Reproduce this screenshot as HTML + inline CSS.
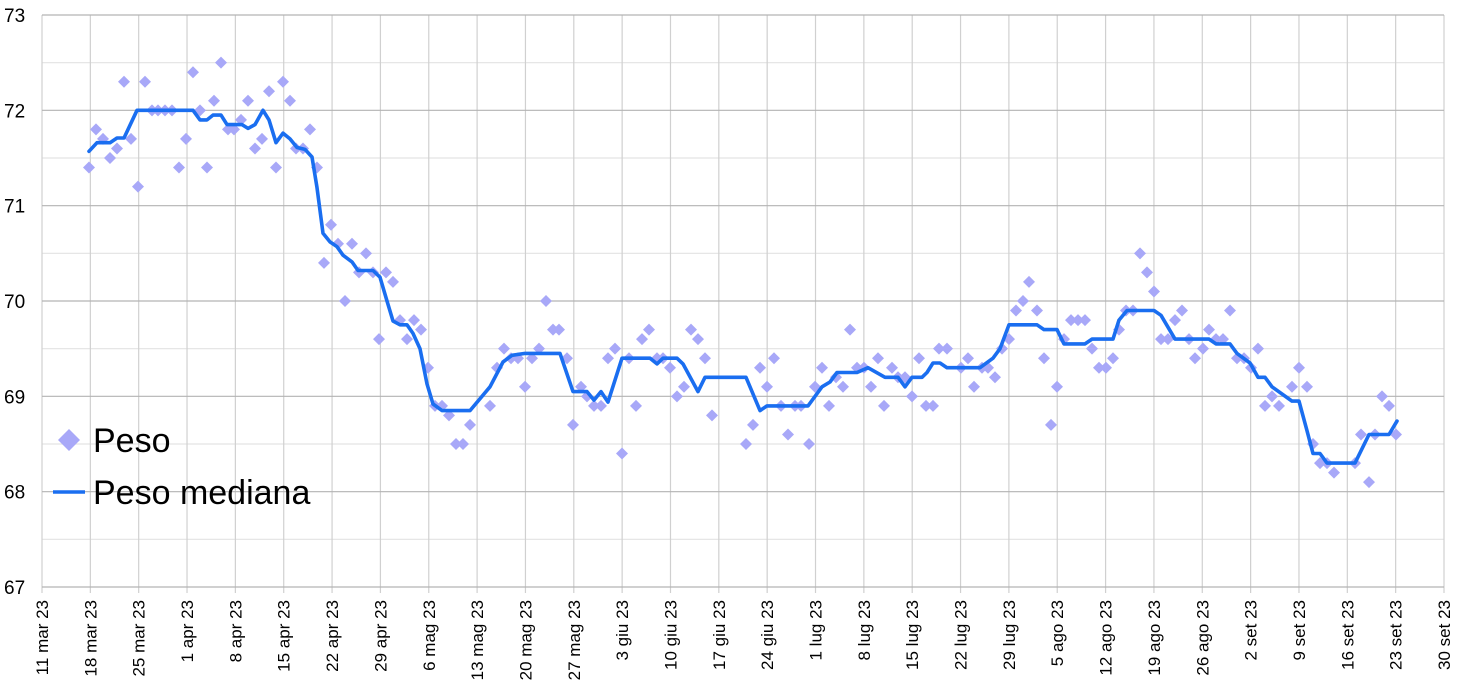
<!DOCTYPE html>
<html><head><meta charset="utf-8"><style>
html,body{margin:0;padding:0;background:#fff;}
svg{display:block;font-family:"Liberation Sans",Arial,sans-serif;}
</style></head><body>
<svg id="s" width="1457" height="685" viewBox="0 0 1457 685" xmlns="http://www.w3.org/2000/svg"></svg>
<script>
const S=document.getElementById('s');
const L=42,R=1444,T=15,B=587;
const Y=v=>T+(73-v)*(B-T)/6;
let h='';
for(let v=67.5;v<73;v+=1) h+=`<line x1="${L}" x2="${R}" y1="${Y(v)}" y2="${Y(v)}" stroke="#e3e3e3" stroke-width="1.2"/>`;
const labels=["11 mar 23","18 mar 23","25 mar 23","1 apr 23","8 apr 23","15 apr 23","22 apr 23","29 apr 23","6 mag 23","13 mag 23","20 mag 23","27 mag 23","3 giu 23","10 giu 23","17 giu 23","24 giu 23","1 lug 23","8 lug 23","15 lug 23","22 lug 23","29 lug 23","5 ago 23","12 ago 23","19 ago 23","26 ago 23","2 set 23","9 set 23","16 set 23","23 set 23","30 set 23"];
const step=(R-L)/29;
labels.forEach((t,i)=>{const x=L+i*step;
h+=`<line x1="${x}" x2="${x}" y1="${T}" y2="${B+6}" stroke="#d0d0d0" stroke-width="1.2"/>`;
h+=`<text transform="translate(${x+6},${B+13}) rotate(-90)" text-anchor="end" font-size="17" fill="#000">${t}</text>`;});
for(let v=67;v<=73;v++){h+=`<line x1="${L}" x2="${R}" y1="${Y(v)}" y2="${Y(v)}" stroke="#b3b3b3" stroke-width="1.2"/>`;
h+=`<text x="4" y="${Y(v)+7}" font-size="19" fill="#000">${v}</text>`;}
const P=[[89,71.4],[96,71.8],[103,71.7],[110,71.5],[117,71.6],[124,72.3],[131,71.7],[138,71.2],[145,72.3],[152,72.0],[158,72.0],[165,72.0],[172,72.0],[179,71.4],[186,71.7],[193,72.4],[200,72.0],[207,71.4],[214,72.1],[221,72.5],[228,71.8],[234,71.8],[241,71.9],[248,72.1],[255,71.6],[262,71.7],[269,72.2],[276,71.4],[283,72.3],[290,72.1],[296,71.6],[303,71.6],[310,71.8],[317,71.4],[324,70.4],[331,70.8],[338,70.6],[345,70.0],[352,70.6],[359,70.3],[366,70.5],[373,70.3],[379,69.6],[386,70.3],[393,70.2],[400,69.8],[407,69.6],[414,69.8],[421,69.7],[428,69.3],[435,68.9],[442,68.9],[449,68.8],[456,68.5],[463,68.5],[470,68.7],[490,68.9],[497,69.3],[504,69.5],[511,69.4],[518,69.4],[525,69.1],[532,69.4],[539,69.5],[546,70.0],[553,69.7],[559,69.7],[567,69.4],[573,68.7],[581,69.1],[587,69.0],[594,68.9],[601,68.9],[608,69.4],[615,69.5],[622,68.4],[629,69.4],[636,68.9],[642,69.6],[649,69.7],[657,69.4],[663,69.4],[670,69.3],[677,69.0],[684,69.1],[691,69.7],[698,69.6],[705,69.4],[712,68.8],[746,68.5],[753,68.7],[760,69.3],[767,69.1],[774,69.4],[781,68.9],[788,68.6],[795,68.9],[801,68.9],[809,68.5],[815,69.1],[822,69.3],[829,68.9],[836,69.2],[843,69.1],[850,69.7],[857,69.3],[864,69.3],[871,69.1],[878,69.4],[884,68.9],[892,69.3],[898,69.2],[905,69.2],[912,69.0],[919,69.4],[926,68.9],[933,68.9],[939,69.5],[947,69.5],[961,69.3],[968,69.4],[974,69.1],[982,69.3],[988,69.3],[995,69.2],[1002,69.5],[1009,69.6],[1016,69.9],[1023,70.0],[1029,70.2],[1037,69.9],[1044,69.4],[1051,68.7],[1057,69.1],[1064,69.6],[1071,69.8],[1078,69.8],[1085,69.8],[1092,69.5],[1099,69.3],[1106,69.3],[1113,69.4],[1119,69.7],[1126,69.9],[1133,69.9],[1140,70.5],[1147,70.3],[1154,70.1],[1161,69.6],[1168,69.6],[1175,69.8],[1182,69.9],[1189,69.6],[1195,69.4],[1203,69.5],[1209,69.7],[1216,69.6],[1223,69.6],[1230,69.9],[1237,69.4],[1244,69.4],[1251,69.3],[1258,69.5],[1265,68.9],[1272,69.0],[1279,68.9],[1292,69.1],[1299,69.3],[1307,69.1],[1313,68.5],[1320,68.3],[1327,68.3],[1334,68.2],[1355,68.3],[1361,68.6],[1369,68.1],[1375,68.6],[1382,69.0],[1389,68.9],[1396,68.6]];
const dm=(x,y,r)=>`<polygon points="${x},${y-r} ${x+r},${y} ${x},${y+r} ${x-r},${y}" fill="#a8a8f8"/>`;
P.forEach(p=>h+=dm(p[0],Y(p[1]),6));
const M=[[89,71.57],[97,71.66],[110,71.66],[117,71.71],[124,71.71],[137,72.0],[193,72.0],[200,71.9],[207,71.9],[213,71.95],[221,71.95],[227,71.85],[242,71.85],[248,71.81],[255,71.85],[263,72.0],[269,71.9],[276,71.66],[283,71.76],[290,71.7],[297,71.61],[305,71.59],[312,71.51],[317,71.19],[323,70.71],[330,70.62],[337,70.57],[343,70.48],[352,70.41],[358,70.32],[373,70.32],[380,70.25],[387,70.0],[393,69.79],[400,69.75],[407,69.75],[413,69.66],[420,69.5],[427,69.13],[433,68.92],[442,68.85],[470,68.85],[490,69.1],[503,69.36],[512,69.43],[525,69.45],[560,69.45],[573,69.05],[587,69.05],[594,68.96],[601,69.05],[608,68.94],[622,69.4],[650,69.4],[657,69.34],[663,69.4],[677,69.4],[683,69.34],[698,69.05],[705,69.2],[746,69.2],[760,68.85],[767,68.9],[808,68.9],[822,69.1],[830,69.15],[837,69.25],[857,69.25],[868,69.3],[885,69.2],[898,69.2],[905,69.1],[912,69.2],[922,69.2],[927,69.25],[933,69.35],[940,69.35],[947,69.3],[980,69.3],[993,69.4],[1000,69.5],[1009,69.75],[1037,69.75],[1044,69.7],[1057,69.7],[1064,69.55],[1085,69.55],[1092,69.6],[1113,69.6],[1119,69.8],[1127,69.9],[1154,69.9],[1161,69.85],[1175,69.6],[1209,69.6],[1216,69.55],[1230,69.55],[1237,69.45],[1250,69.35],[1258,69.2],[1265,69.2],[1272,69.1],[1292,68.95],[1299,68.95],[1307,68.64],[1313,68.4],[1320,68.4],[1327,68.3],[1355,68.3],[1369,68.6],[1389,68.6],[1397,68.74]];
h+=`<polyline fill="none" stroke="#1a6ef0" stroke-width="3.6" stroke-linejoin="round" stroke-linecap="round" points="${M.map(p=>p[0]+','+Y(p[1]).toFixed(1)).join(' ')}"/>`;
h+=dm(69,440,11);
h+=`<text x="93" y="452" font-size="34" fill="#000">Peso</text>`;
h+=`<line x1="53" x2="85" y1="492" y2="492" stroke="#1a6ef0" stroke-width="3.5"/>`;
h+=`<text x="93" y="504" font-size="34" fill="#000">Peso mediana</text>`;
S.innerHTML=h;
</script>
</body></html>
